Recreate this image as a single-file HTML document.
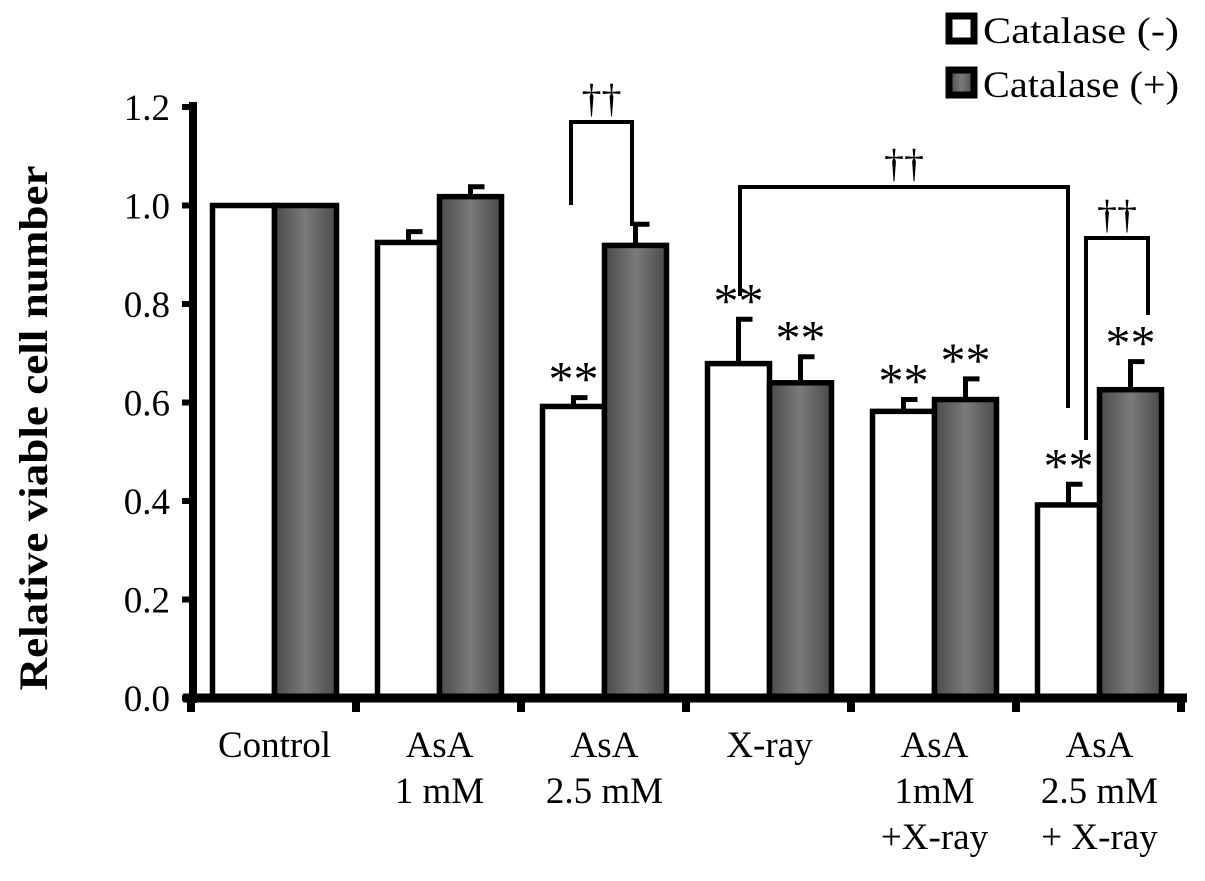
<!DOCTYPE html>
<html><head><meta charset="utf-8"><style>
body{margin:0;background:#fff;}
svg{display:block;font-family:"Liberation Serif",serif;}
</style></head><body>
<svg id="chart" width="1205" height="881" viewBox="0 0 1205 881">
<defs>
<linearGradient id="gv" x1="0" y1="0" x2="1" y2="0">
<stop offset="0" stop-color="#4a4a4a"/><stop offset="0.5" stop-color="#7a7a7a"/><stop offset="1" stop-color="#4a4a4a"/>
</linearGradient>
</defs>
</svg>
<script>
const categories=[["Control"],["AsA","1 mM"],["AsA","2.5 mM"],["X-ray"],["AsA","1mM","+X-ray"],["AsA","2.5 mM","+ X-ray"]];
const catalaseMinus=[1.0,0.925,0.592,0.679,0.582,0.392];
const catalaseMinusErr=[0,0.022,0.018,0.09,0.024,0.042];
const catalasePlus=[1.0,1.018,0.919,0.64,0.606,0.626];
const catalasePlusErr=[0,0.02,0.043,0.053,0.042,0.057];
const minusSig=["","","**","**","**","**"];
const plusSig=["","","","**","**","**"];
const yTicks=[0.0,0.2,0.4,0.6,0.8,1.0,1.2];

const svg=document.getElementById('chart');
const NS='http://www.w3.org/2000/svg';
function el(t,a,p){const e=document.createElementNS(NS,t);for(const k in a)e.setAttribute(k,a[k]);(p||svg).appendChild(e);return e;}
const y0=698,yTop=107,x0=193,x1=1187;
const Y=v=>y0-(v/1.2)*(y0-yTop);
const gw=165;
const bw=62;
const gc=i=>x0+gw*(i+0.5)-1;

categories.forEach((c,i)=>{
  const cx=gc(i);
  [[catalaseMinus,catalaseMinusErr,'#fff',cx-bw,minusSig,'white'],[catalasePlus,catalasePlusErr,'url(#gv)',cx,plusSig,'gray']].forEach(([vals,errs,fill,bx,sig,nm])=>{
    const v=vals[i],e=errs[i];
    if(e>0){
      const l=el('line',{x1:bx+bw/2,x2:bx+bw/2,y1:Y(v),y2:Y(v+e),stroke:'#000','stroke-width':5});
      
      
      const cap=el('line',{x1:bx+bw/2-2.5,x2:bx+bw/2+14,y1:Y(v+e),y2:Y(v+e),stroke:'#000','stroke-width':5});
      
      
    }
    const r=el('rect',{x:bx,y:Y(v),width:bw,height:y0-Y(v),fill:fill,stroke:'#000','stroke-width':5.5});
    
    
    if(sig[i]){
      const t=el('text',{x:bx+bw/2,y:Y(v+e)-2,'font-size':50,'text-anchor':'middle'});
      t.textContent=sig[i];
      
      
    }
  });
  c.forEach((s,k)=>{
    const t=el('text',{x:cx,y:757+k*46,'font-size':37,'text-anchor':'middle'});
    t.textContent=s;
    
    
  });
});

const ya=el('line',{x1:x0,x2:x0,y1:y0+5,y2:yTop-5,stroke:'#000','stroke-width':8});


const xa=el('line',{x1:x0-10,x2:x1,y1:y0,y2:y0,stroke:'#000','stroke-width':9});


yTicks.forEach(v=>{
  const tk=el('line',{x1:x0-11,x2:x0,y1:Y(v),y2:Y(v),stroke:'#000','stroke-width':6});
  
  
  const t=el('text',{x:170,y:Y(v)+13,'font-size':37,'text-anchor':'end'});
  t.textContent=v.toFixed(1);
  
  
});
for(let i=0;i<=categories.length;i++){
  const tk=el('line',{x1:x0+gw*i-2,x2:x0+gw*i-2,y1:y0,y2:y0+14,stroke:'#000','stroke-width':8});
  
  
}
const yl=el('text',{x:0,y:0,'font-size':40,'font-weight':'bold','text-anchor':'middle',textLength:525,lengthAdjust:'spacingAndGlyphs',transform:'translate(47,428) rotate(-90)'});
yl.textContent='Relative viable cell number';



function bracket(xa,ya,xb,yb,yt){
  const p=el('polyline',{points:`${xa},${ya} ${xa},${yt} ${xb},${yt} ${xb},${yb}`,fill:'none',stroke:'#000','stroke-width':4});
  
  
  const t=el('text',{x:(xa+xb)/2,y:yt-10,'font-size':40,'text-anchor':'middle'});
  t.textContent='††';
  
  
}
bracket(571,205,632,226,122);
bracket(740,296,1068,408,187);
bracket(1086,440,1148,315,238);

[['Catalase (-)','#fff',13],['Catalase (+)','url(#gv)',67]].forEach(([lab,f,yy],i)=>{
  const g=el('g',{});
  
  
  el('rect',{x:949,y:yy+3,width:25,height:25,fill:f,stroke:'#000','stroke-width':7},g);
  const t=el('text',{x:983,y:yy+30,'font-size':37,textLength:196,lengthAdjust:'spacingAndGlyphs'},g);
  t.textContent=lab;
});
</script>
</body></html>
